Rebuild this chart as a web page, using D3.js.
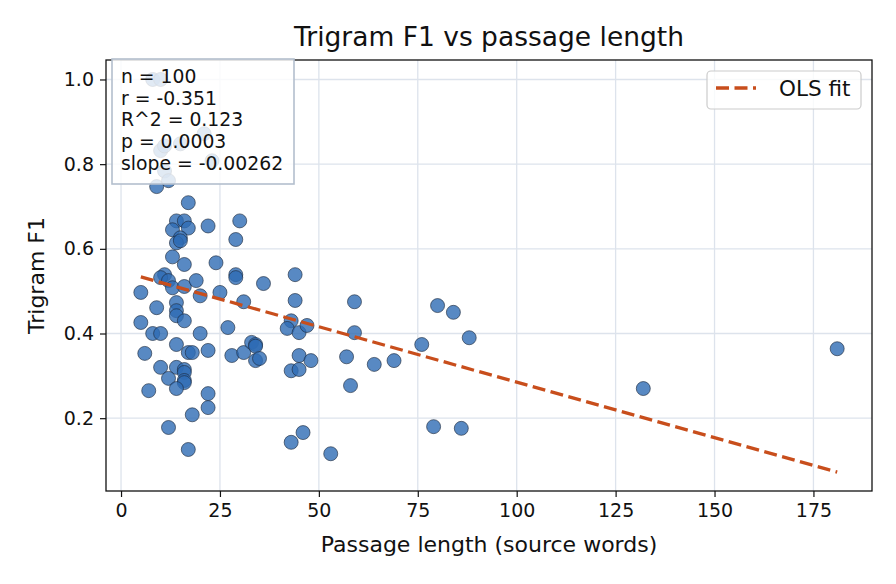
<!DOCTYPE html>
<html>
<head>
<meta charset="utf-8">
<script src="https://cdn.jsdelivr.net/npm/d3@7"></script>
<style>
  body { margin: 0; background: #fff; }
  svg { font-family: "DejaVu Sans", sans-serif; }
</style>
</head>
<body>
<div id="chart"></div>
<script>
// passage length (source words) per item
const lengths = [8, 10, 21, 15, 10, 23, 11, 9, 12, 17,
  14, 16, 13, 17, 22, 15, 14, 13, 16, 24,
  30, 29, 11, 10, 12, 13, 16, 19, 5, 20,
  25, 29, 29, 36, 44, 31, 44, 59, 9, 14,
  14, 14, 16, 5, 43, 42, 45, 47, 59, 27,
  8, 10, 20, 14, 6, 17, 18, 22, 28, 31,
  33, 34, 34, 34, 45, 48, 43, 45, 57, 64,
  69, 58, 10, 14, 16, 16, 12, 16, 16, 14,
  7, 22, 22, 18, 12, 17, 43, 46, 53, 80,
  84, 88, 76, 79, 86, 132, 181, 11, 15, 35];
// trigram F1 per item
const f1s = [1.0, 1.0, 0.872, 0.848, 0.832, 0.808, 0.784, 0.747, 0.761, 0.709,
  0.666, 0.666, 0.645, 0.649, 0.654, 0.626, 0.614, 0.581, 0.563, 0.567,
  0.666, 0.622, 0.539, 0.532, 0.525, 0.508, 0.511, 0.525, 0.497, 0.489,
  0.497, 0.539, 0.532, 0.518, 0.539, 0.475, 0.478, 0.475, 0.461, 0.473,
  0.454, 0.442, 0.430, 0.426, 0.430, 0.412, 0.402, 0.419, 0.402, 0.414,
  0.400, 0.400, 0.400, 0.374, 0.353, 0.355, 0.355, 0.360, 0.348, 0.355,
  0.379, 0.374, 0.370, 0.336, 0.348, 0.336, 0.312, 0.315, 0.345, 0.327,
  0.336, 0.277, 0.320, 0.320, 0.315, 0.308, 0.294, 0.289, 0.284, 0.270,
  0.265, 0.258, 0.225, 0.208, 0.178, 0.126, 0.143, 0.166, 0.116, 0.466,
  0.450, 0.390, 0.374, 0.180, 0.176, 0.270, 0.364, 0.843, 0.619, 0.341];

const statLines = ["n = 100", "r = -0.351", "R^2 = 0.123", "p = 0.0003", "slope = -0.00262"];
const fitIntercept = 0.547;
const fitSlope = -0.00262;
const xTicks = [0, 25, 50, 75, 100, 125, 150, 175];
const yTicks = [0.2, 0.4, 0.6, 0.8, 1.0];

const width = 896, height = 584;
const margin = {top: 60, right: 24, bottom: 93, left: 106};
const innerW = width - margin.left - margin.right;
const innerH = height - margin.top - margin.bottom;

const points = lengths.map((x, i) => ({x: x, y: f1s[i]}));

const svg = d3.select("#chart").append("svg")
  .attr("width", width).attr("height", height);

const g = svg.append("g").attr("transform", `translate(${margin.left},${margin.top})`);

const x = d3.scaleLinear().domain([-3.8, 189.8]).range([0, innerW]);
const y = d3.scaleLinear().domain([0.028, 1.046]).range([innerH, 0]);

// grid
g.selectAll(".gx").data(xTicks).join("line")
  .attr("x1", d => x(d)).attr("x2", d => x(d))
  .attr("y1", 0).attr("y2", innerH)
  .attr("stroke", "#dde3ec").attr("stroke-width", 1.3);
g.selectAll(".gy").data(yTicks).join("line")
  .attr("y1", d => y(d)).attr("y2", d => y(d))
  .attr("x1", 0).attr("x2", innerW)
  .attr("stroke", "#dde3ec").attr("stroke-width", 1.3);

// scatter
g.append("g").selectAll("circle").data(points).join("circle")
  .attr("cx", d => x(d.x)).attr("cy", d => y(d.y))
  .attr("r", 7)
  .attr("fill", "#2e6bb4").attr("fill-opacity", 0.8)
  .attr("stroke", "#1c2a3c").attr("stroke-width", 0.7).attr("stroke-opacity", 0.9);

// OLS line
const xr = d3.extent(lengths);
g.append("line")
  .attr("x1", x(xr[0])).attr("y1", y(fitIntercept + fitSlope * xr[0]))
  .attr("x2", x(xr[1])).attr("y2", y(fitIntercept + fitSlope * xr[1]))
  .attr("stroke", "#c84e1c").attr("stroke-width", 3.3)
  .attr("stroke-dasharray", "13,5.5");

// axes
const xAxis = g.append("g").attr("transform", `translate(0,${innerH})`)
  .call(d3.axisBottom(x).tickValues(xTicks).tickSize(6).tickPadding(7));
const yAxis = g.append("g")
  .call(d3.axisLeft(y).tickValues(yTicks).tickFormat(d3.format(".1f")).tickSize(6).tickPadding(6));
[xAxis, yAxis].forEach(a => {
  a.select(".domain").remove();
  a.selectAll("line").attr("stroke", "#111").attr("stroke-width", 1.2);
  a.selectAll("text").attr("fill", "#111").style("font-size", "19px")
    .style("font-family", "DejaVu Sans");
});

// spines
g.append("rect").attr("width", innerW).attr("height", innerH)
  .attr("fill", "none").attr("stroke", "#111").attr("stroke-width", 1.3);

// title and labels
svg.append("text").attr("x", margin.left + innerW / 2).attr("y", 46)
  .attr("text-anchor", "middle").style("font-size", "26.5px").attr("fill", "#111")
  .text("Trigram F1 vs passage length");
svg.append("text").attr("x", margin.left + innerW / 2).attr("y", 552)
  .attr("text-anchor", "middle").style("font-size", "22px").attr("fill", "#111")
  .text("Passage length (source words)");
svg.append("text")
  .attr("transform", `translate(44,${margin.top + innerH / 2}) rotate(-90)`)
  .attr("text-anchor", "middle").style("font-size", "22px").attr("fill", "#111")
  .text("Trigram F1");

// stats box
const sb = svg.append("g");
sb.append("rect").attr("x", 112).attr("y", 59).attr("width", 182).attr("height", 125)
  .attr("fill", "#fff").attr("fill-opacity", 0.82)
  .attr("stroke", "#b3bfcd").attr("stroke-width", 1.6);
sb.selectAll("text").data(statLines).join("text")
  .attr("x", 121).attr("y", (d, i) => 83 + i * 21.7)
  .style("font-size", "18.8px").attr("fill", "#111")
  .text(d => d);

// legend
const lg = svg.append("g");
lg.append("rect").attr("x", 707).attr("y", 71).attr("width", 154).attr("height", 38)
  .attr("rx", 4).attr("fill", "#fff").attr("fill-opacity", 0.8)
  .attr("stroke", "#cccccc").attr("stroke-width", 1.2);
lg.append("line").attr("x1", 716).attr("x2", 756).attr("y1", 88).attr("y2", 88)
  .attr("stroke", "#c84e1c").attr("stroke-width", 3.3).attr("stroke-dasharray", "13,5.5");
lg.append("text").attr("x", 779).attr("y", 96)
  .style("font-size", "21.5px").attr("fill", "#111").text("OLS fit");
</script>
</body>
</html>
